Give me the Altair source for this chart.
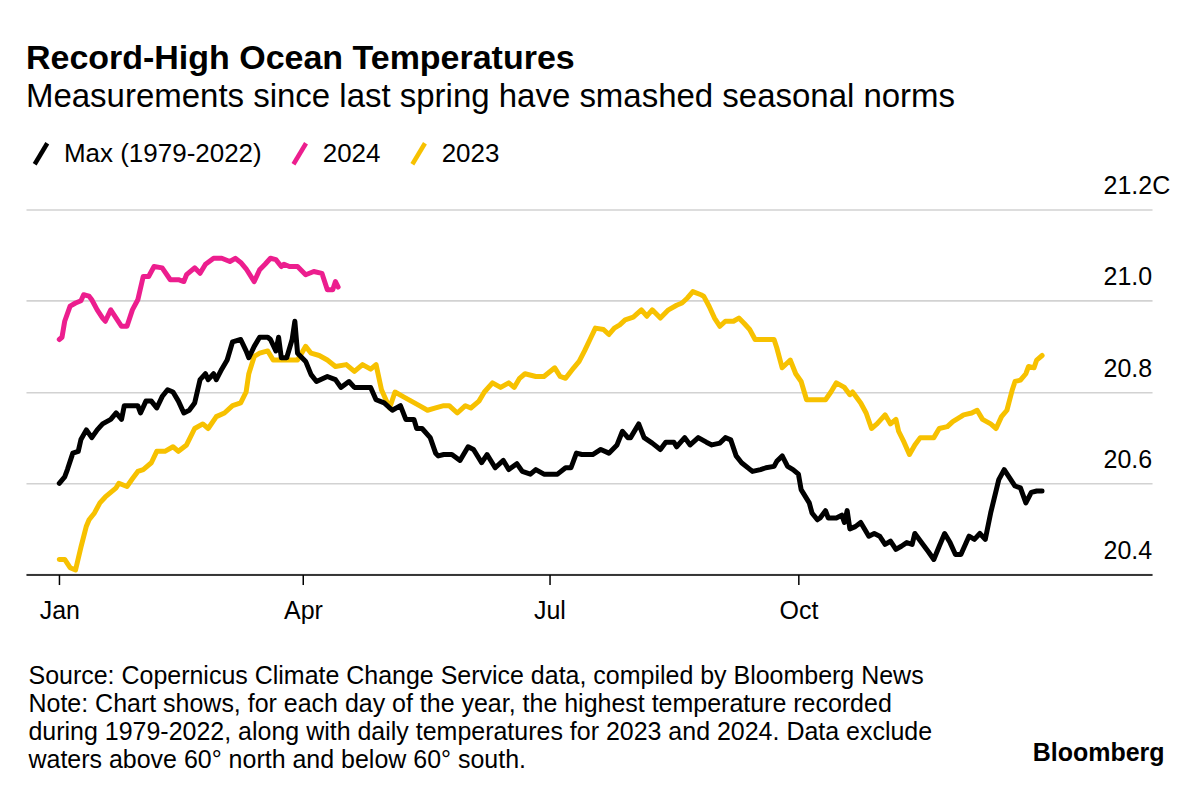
import altair as alt
import pandas as pd

FONT = "Liberation Sans"

SERIES = ["Max (1979-2022)", "2024", "2023"]
COLORS = ["#000000", "#ec1e8e", "#f7c100"]

# Day of year (0 = Jan 1) and temperature (C)
max_days = [0, 2, 3, 5, 7, 8, 10, 12, 14, 16, 19, 21, 23, 24, 27, 29, 30, 32, 34, 36,
            38, 40, 42, 44, 46, 48, 50, 52, 54, 55, 57, 58, 60, 62, 64, 67, 69, 70, 72, 74,
            77, 78, 80, 81, 82, 84, 86, 87, 88, 91, 93, 95, 99, 102, 104, 107, 109, 112, 115, 117,
            120, 123, 126, 128, 131, 132, 134, 137, 139, 140, 142, 145, 148, 151, 153, 156, 158, 161, 164, 166,
            169, 171, 174, 176, 179, 184, 187, 189, 191, 193, 197, 200, 203, 206, 208, 210, 211, 214, 216, 219,
            222, 224, 227, 228, 231, 233, 236, 239, 241, 244, 246, 248, 250, 252, 256, 259, 261, 264, 265, 267,
            269, 271, 273, 274, 277, 278, 280, 281, 283, 284, 287, 289, 290, 291, 292, 294, 296, 299, 301, 303,
            305, 307, 309, 311, 313, 315, 316, 319, 321, 323, 325, 327, 329, 331, 333, 336, 338, 340, 342, 344,
            347, 349, 351, 353, 355, 357, 359, 361, 363]
max_vals = [20.600, 20.614, 20.630, 20.666, 20.670, 20.696, 20.717, 20.700, 20.717, 20.730,
            20.740, 20.754, 20.740, 20.770, 20.770, 20.770, 20.754, 20.780, 20.780, 20.765,
            20.790, 20.805, 20.800, 20.780, 20.754, 20.760, 20.776, 20.827, 20.840, 20.827,
            20.840, 20.827, 20.850, 20.870, 20.910, 20.915, 20.890, 20.875, 20.900, 20.920,
            20.920, 20.915, 20.890, 20.920, 20.875, 20.875, 20.915, 20.955, 20.885, 20.867,
            20.838, 20.823, 20.834, 20.827, 20.810, 20.823, 20.810, 20.810, 20.810, 20.783,
            20.776, 20.760, 20.770, 20.740, 20.740, 20.720, 20.720, 20.700, 20.666, 20.660,
            20.663, 20.663, 20.650, 20.680, 20.674, 20.645, 20.663, 20.634, 20.650, 20.630,
            20.643, 20.626, 20.620, 20.630, 20.620, 20.620, 20.634, 20.634, 20.666, 20.663,
            20.663, 20.674, 20.666, 20.684, 20.714, 20.700, 20.700, 20.730, 20.700, 20.688,
            20.674, 20.690, 20.690, 20.680, 20.700, 20.684, 20.700, 20.690, 20.684, 20.688,
            20.700, 20.695, 20.660, 20.645, 20.626, 20.630, 20.634, 20.637, 20.648, 20.660,
            20.637, 20.630, 20.620, 20.586, 20.557, 20.535, 20.520, 20.524, 20.540, 20.524,
            20.524, 20.530, 20.514, 20.540, 20.500, 20.505, 20.514, 20.484, 20.490, 20.484,
            20.466, 20.473, 20.455, 20.462, 20.470, 20.466, 20.490, 20.466, 20.450, 20.433,
            20.462, 20.490, 20.470, 20.444, 20.444, 20.484, 20.477, 20.490, 20.477, 20.535,
            20.608, 20.630, 20.612, 20.594, 20.590, 20.557, 20.580, 20.583, 20.583]

y2023_days = [0, 2, 4, 6, 8, 10, 11, 13, 15, 17, 19, 21, 22, 25, 27, 29, 31, 34, 36, 39,
              42, 44, 47, 50, 53, 55, 58, 61, 64, 67, 69, 70, 72, 74, 77, 79, 83, 88, 91, 93,
              96, 99, 102, 106, 109, 112, 115, 117, 119, 122, 124, 127, 130, 133, 136, 139, 142, 144, 147, 150,
              152, 155, 157, 160, 163, 166, 168, 170, 172, 176, 179, 183, 185, 187, 190, 192, 194, 196, 198, 201,
              203, 205, 207, 209, 212, 215, 217, 219, 222, 225, 228, 230, 232, 234, 237, 238, 240, 242, 244, 246,
              249, 251, 253, 255, 257, 261, 264, 265, 267, 270, 272, 274, 276, 278, 283, 285, 287, 290, 292, 293,
              296, 298, 300, 302, 305, 307, 309, 310, 312, 314, 316, 318, 321, 323, 325, 328, 330, 333, 334, 337,
              339, 341, 344, 346, 348, 350, 352, 353, 355, 357, 358, 360, 361, 363]
y2023_vals = [20.433, 20.433, 20.415, 20.410, 20.460, 20.506, 20.520, 20.535, 20.557, 20.570,
              20.580, 20.590, 20.600, 20.593, 20.610, 20.626, 20.630, 20.645, 20.670, 20.670,
              20.680, 20.670, 20.684, 20.720, 20.730, 20.720, 20.746, 20.754, 20.770, 20.776,
              20.800, 20.840, 20.878, 20.885, 20.890, 20.870, 20.870, 20.870, 20.900, 20.885,
              20.880, 20.870, 20.856, 20.860, 20.845, 20.860, 20.850, 20.860, 20.805, 20.765,
              20.800, 20.790, 20.780, 20.770, 20.760, 20.765, 20.770, 20.770, 20.754, 20.770,
              20.765, 20.780, 20.800, 20.820, 20.810, 20.820, 20.810, 20.830, 20.840, 20.834,
              20.834, 20.853, 20.834, 20.830, 20.853, 20.867, 20.890, 20.915, 20.940, 20.937,
              20.926, 20.940, 20.947, 20.958, 20.964, 20.980, 20.966, 20.980, 20.962, 20.980,
              20.990, 20.995, 21.006, 21.020, 21.013, 21.010, 20.988, 20.962, 20.944, 20.955,
              20.955, 20.962, 20.950, 20.937, 20.915, 20.915, 20.915, 20.897, 20.853, 20.870,
              20.840, 20.823, 20.783, 20.783, 20.783, 20.800, 20.820, 20.810, 20.794, 20.800,
              20.776, 20.754, 20.720, 20.730, 20.750, 20.730, 20.740, 20.714, 20.690, 20.663,
              20.684, 20.700, 20.700, 20.700, 20.720, 20.724, 20.735, 20.746, 20.750, 20.754,
              20.760, 20.740, 20.730, 20.720, 20.746, 20.760, 20.805, 20.823, 20.826, 20.840,
              20.856, 20.853, 20.870, 20.880]

y2024_days = [0, 1, 2, 4, 6, 8, 9, 11, 12, 14, 16, 17, 19, 21, 23, 25, 27, 29, 31, 33,
              35, 38, 41, 44, 46, 47, 50, 52, 54, 57, 60, 63, 65, 67, 69, 72, 74, 76, 78, 80,
              82, 83, 85, 88, 91, 94, 97, 99, 101, 102, 103]
y2024_vals = [20.915, 20.920, 20.955, 20.988, 20.995, 21.000, 21.013, 21.010, 21.002, 20.980,
              20.962, 20.955, 20.980, 20.962, 20.944, 20.944, 20.980, 21.002, 21.053, 21.053,
              21.075, 21.072, 21.046, 21.046, 21.042, 21.057, 21.072, 21.060, 21.080, 21.093,
              21.093, 21.086, 21.093, 21.084, 21.070, 21.042, 21.068, 21.080, 21.093, 21.090,
              21.075, 21.080, 21.075, 21.075, 21.057, 21.064, 21.060, 21.024, 21.024, 21.042,
              21.030]

month_ticks = [0, 90, 181, 273]
month_labels = ["Jan", "Apr", "Jul", "Oct"]
temp_ticks = [20.4, 20.6, 20.8, 21.0, 21.2]

TITLE = "Record-High Ocean Temperatures"
SUBTITLE = "Measurements since last spring have smashed seasonal norms"
FOOTER = [
    "Source: Copernicus Climate Change Service data, compiled by Bloomberg News",
    "Note: Chart shows, for each day of the year, the highest temperature recorded",
    "during 1979-2022, along with daily temperatures for 2023 and 2024. Data exclude",
    "waters above 60\u00b0 north and below 60\u00b0 south.",
]
BRAND = "Bloomberg"

rows = []
for name, days, vals in [(SERIES[0], max_days, max_vals),
                         (SERIES[1], y2024_days, y2024_vals),
                         (SERIES[2], y2023_days, y2023_vals)]:
    for d, v in zip(days, vals):
        rows.append({"series": name, "day": d, "temp": v})
df = pd.DataFrame(rows)

month_expr = " : ".join(
    f"datum.value == {t} ? '{l}'" for t, l in zip(month_ticks, month_labels)
) + " : ''"

x_enc = alt.X(
    "day:Q",
    scale=alt.Scale(domain=[-12.3, 403.6], nice=False, zero=False),
    axis=alt.Axis(
        values=month_ticks, labelExpr=month_expr, grid=False,
        domainColor="#000000", domainWidth=1.5,
        tickColor="#000000", tickWidth=1.5, tickSize=10,
        labelFont=FONT, labelFontSize=25, labelColor="#000000", labelPadding=14,
        title=FOOTER, titleX=2, titleY=89, titleAlign="left", titleAnchor="start",
        titleBaseline="top", titleFont=FONT, titleFontSize=25, titleFontWeight="normal",
        titleLineHeight=28, titleColor="#000000",
    ),
)

y_enc = alt.Y(
    "temp:Q",
    scale=alt.Scale(domain=[20.4, 21.2], nice=False, zero=False),
    axis=alt.Axis(
        orient="right", values=temp_ticks, format=".1f",
        labelExpr="datum.value > 21.1 ? datum.label + 'C' : datum.label",
        grid=True, gridColor="#d2d2d2", gridWidth=1.6,
        domain=False, ticks=False, tickSize=0,
        labelAlign="left", labelPadding=-49, labelBaseline="alphabetic", labelOffset=-16,
        labelFont=FONT, labelFontSize=25, labelColor="#000000",
        title=BRAND, titleAngle=0, titleX=12, titleY=552, titleAlign="right",
        titleBaseline="alphabetic", titleFont=FONT, titleFontSize=25, titleFontWeight="bold",
        titleColor="#000000",
    ),
)

color_enc = alt.Color(
    "series:N",
    scale=alt.Scale(domain=SERIES, range=COLORS),
    legend=alt.Legend(
        orient="none", legendX=2, legendY=-69, direction="horizontal", title=None,
        symbolType="M-0.6,1L0.6,-1", symbolSize=440, symbolStrokeWidth=4.5,
        labelFont=FONT, labelFontSize=26, labelColor="#000000", labelOffset=10,
        columnPadding=22, labelLimit=400,
    ),
)

base = alt.Chart(df).encode(x=x_enc, y=y_enc, color=color_enc)

def line(name):
    return base.transform_filter(alt.datum.series == name).mark_line(
        strokeWidth=5, strokeJoin="round", strokeCap="round"
    )

chart = alt.layer(line(SERIES[2]), line(SERIES[0]), line(SERIES[1])).properties(
    width=1127,
    height=365.4,
    padding={"left": 18, "top": 201.3, "right": 40, "bottom": 205},
    autosize=alt.AutoSizeParams(type="none"),
    background="#ffffff",
    title=alt.Title(
        text=TITLE, subtitle=SUBTITLE, anchor="start", frame="group",
        font=FONT, fontSize=34, fontWeight="bold", color="#000000",
        subtitleFont=FONT, subtitleFontSize=33, subtitleColor="#000000",
        subtitlePadding=5, offset=27,
    ),
).configure_view(strokeWidth=0, stroke="transparent")

chart.save("out.html", embed_options={"renderer": "svg", "actions": False})
